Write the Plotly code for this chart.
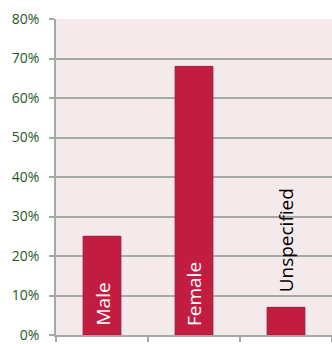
import plotly.graph_objects as go

categories = ["Male", "Female", "Unspecified"]
values = [0.25, 0.68, 0.07]
label_inside = [True, True, False]
y_ticks = [0, 0.1, 0.2, 0.3, 0.4, 0.5, 0.6, 0.7, 0.8]
y_tick_labels = ["0%", "10%", "20%", "30%", "40%", "50%", "60%", "70%", "80%"]

fig = go.Figure()
fig.add_trace(go.Bar(
    x=categories, y=values, width=0.41,
    marker=dict(color="#C21D40", line=dict(color="#9C1A33", width=1)),
    hoverinfo="skip",
))

for c, v, inside in zip(categories, values, label_inside):
    fig.add_annotation(
        x=c, y=0 if inside else v, xref="x", yref="y",
        text=c, textangle=-90, showarrow=False,
        xanchor="center", yanchor="bottom",
        yshift=7 if inside else 13,
        font=dict(family="Open Sans", size=19, color="white" if inside else "black"),
    )

grid = "#A3A9A3"
fig.update_layout(
    width=332, height=344,
    margin=dict(l=56, r=0, t=19, b=7),
    paper_bgcolor="white", plot_bgcolor="#F4EAEB",
    showlegend=False,
    bargap=0.59,
)
fig.update_xaxes(
    showticklabels=False, showgrid=False, showline=True, linecolor=grid, linewidth=1.5,
    ticks="outside", tickson="boundaries", ticklen=5, tickcolor=grid, tickwidth=1.5,
)
fig.update_yaxes(
    range=[0, 0.8], tickvals=y_ticks, ticktext=y_tick_labels,
    showgrid=True, gridcolor=grid, gridwidth=1.5,
    showline=True, linecolor=grid, linewidth=1.5,
    ticks="outside", ticklen=5, tickcolor=grid, tickwidth=1.5,
    tickfont=dict(family="Open Sans", size=14, color="#1E5C1E"),
    ticklabelstandoff=7, ticklabeloverflow="allow",
    zeroline=False,
)
fig.write_html("out.html")
